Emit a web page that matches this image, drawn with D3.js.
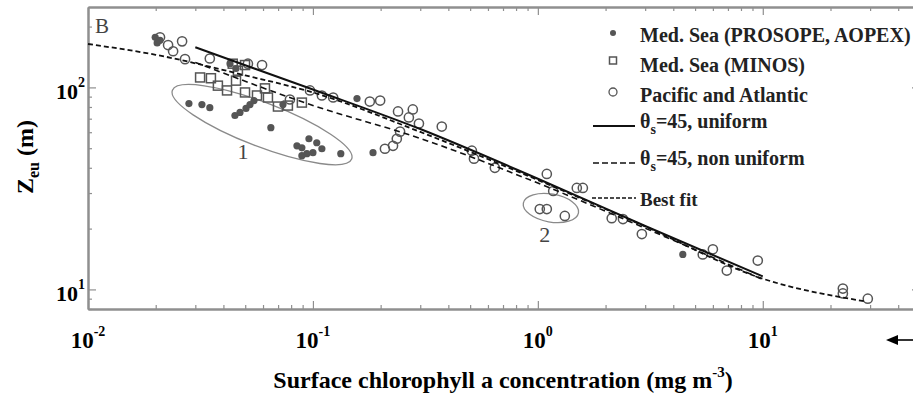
<!DOCTYPE html>
<html><head><meta charset="utf-8">
<script src="https://cdn.jsdelivr.net/npm/d3@7"></script>
<style>body{margin:0;background:#fff}svg{display:block}</style>
</head><body><svg id="c" width="913" height="396"></svg>
<script>
// ---------- data ----------
const prosopeChl = [0.0199,0.0203,0.0209,0.0281,0.0321,0.0348,0.045,0.0474,0.0504,0.0525,0.0547,0.065,0.0849,0.0893,0.096,0.104,0.1096,0.1,0.0893,0.094,0.133,0.185,4.41,0.0428,0.0455,0.0736,0.157];
const prosopeZeu = [177,166,171,83.2,82.2,79.4,72.6,75.2,78.7,82.2,86.1,63.2,51.4,50.2,55.7,53.2,49.7,47.5,45.9,47,47,47.5,14.9,131,124,82.2,88];

const minosChl = [0.0315,0.0352,0.0378,0.0415,0.044,0.0464,0.0455,0.0499,0.0564,0.0631,0.0699,0.0774,0.0893,0.0612,0.0499];
const minosZeu = [112,111,102,96.6,131,121,108,94.4,91.2,89.1,80.4,81.3,84.1,98.9,129];

const pacAtlChl = [0.0209,0.0262,0.0227,0.0239,0.027,0.0348,0.0514,0.0594,0.079,0.097,0.1096,0.123,0.179,0.199,0.239,0.278,0.267,0.296,0.374,0.244,0.236,0.227,0.209,0.509,0.52,0.644,1.096,1.17,1.49,1.585,1.02,1.096,1.318,2.13,2.39,2.9,5.41,6.0,6.92,9.5,22.7,22.7,29.3];
const pacAtlZeu = [177,169,162,151,138,139,131,129,87.1,96.6,91.2,89.1,85.1,86.1,76,77.8,71,66.2,64,60.4,55.7,51.4,49.7,48.6,44.4,40,37.3,30.7,31.8,31.8,25,25,23.1,22.5,22.3,18.8,14.9,15.8,12.4,13.9,10.1,9.55,9.0];

const uniformChl = [0.03,0.1,0.3,1,3,10];
const uniformZeu = [158,97.6,62.2,35.3,20.6,11.6];
const nonUniformChl = [0.03,0.1,0.3,1,3,10];
const nonUniformZeu = [133,81.4,55.9,33.6,20.1,11.2];
const bestFitChl = [0.01,0.02,0.05,0.1,0.3,1,3,10,29];
const bestFitZeu = [164,145,114.7,94.4,60.2,34.8,20.5,11.3,8.7];

const xTickExps = [-2,-1,0,1];
const yTickExps = [1,2];

const legendLabels = ["Med. Sea (PROSOPE, AOPEX)","Med. Sea (MINOS)","Pacific and Atlantic","=45, uniform","=45, non uniform","Best fit"];

// ellipse annotations (centre in data units)
const ellipseChl = [0.0594, 1.143];
const ellipseZeu = [65.4, 25.3];
const ellipseText = ["1","2"];
const ellipseTextChl = [0.0489, 1.074];
const ellipseTextZeu = [48.6, 18.8];

// ---------- drawing ----------
const svg = d3.select("#c");
const serif = "'Liberation Serif','Times New Roman',serif";
const x = d3.scaleLog().domain([0.01,50]).range([88,920]);
const y = d3.scaleLog().domain([8,250]).range([309,7]);
const axisCol = "#8f8f8f";
const markCol = "#555";

// axes
const majX = x.ticks().filter(v => Math.abs(Math.log10(v) - Math.round(Math.log10(v))) < 1e-9);
const minX = x.ticks().filter(v => !majX.includes(v));
const majY = y.ticks().filter(v => Math.abs(Math.log10(v) - Math.round(Math.log10(v))) < 1e-9);
const minY = y.ticks().filter(v => !majY.includes(v));

function styleAxis(g){
  g.selectAll("path").attr("stroke", axisCol).attr("stroke-width", 2);
  g.selectAll("line").attr("stroke", axisCol).attr("stroke-width", 1.2);
}
function addAxis(gen, vals, size, tr){
  svg.append("g").attr("transform", tr)
    .call(gen.tickValues(vals).tickSizeInner(-size).tickSizeOuter(0).tickFormat(""))
    .call(styleAxis);
}
addAxis(d3.axisBottom(x), majX, 8, "translate(0,309)");
addAxis(d3.axisBottom(x), minX, 4, "translate(0,309)");
addAxis(d3.axisTop(x), majX, 8, "translate(0,7)");
addAxis(d3.axisTop(x), minX, 4, "translate(0,7)");
addAxis(d3.axisLeft(y), majY, 8, "translate(88,0)");
addAxis(d3.axisLeft(y), minY, 4, "translate(88,0)");
addAxis(d3.axisRight(y), majY, 8, "translate(920,0)");
addAxis(d3.axisRight(y), minY, 4, "translate(920,0)");

// tick labels
function powLabel(t, e){
  t.append("tspan").text("10");
  t.append("tspan").attr("dy", -12).attr("font-size", 14).text(e);
}
xTickExps.forEach(e => {
  const t = svg.append("text").attr("x", x(Math.pow(10,e))).attr("y", 348)
    .attr("text-anchor","middle").attr("font-family",serif).attr("font-weight","bold").attr("font-size",23);
  powLabel(t, e);
});
yTickExps.forEach(e => {
  const t = svg.append("text").attr("x", 85).attr("y", y(Math.pow(10,e)) + 12)
    .attr("text-anchor","end").attr("font-family",serif).attr("font-weight","bold").attr("font-size",22);
  powLabel(t, e);
});

// axis titles
const xt = svg.append("text").attr("x", 503).attr("y", 388).attr("text-anchor","middle")
  .attr("font-family",serif).attr("font-weight","bold").attr("font-size",24);
xt.append("tspan").text("Surface chlorophyll a concentration (mg m");
xt.append("tspan").attr("dy",-11).attr("font-size",15).text("-3");
xt.append("tspan").attr("dy",11).text(")");

const yt = svg.append("text").attr("transform","translate(33,157) rotate(-90)").attr("text-anchor","middle")
  .attr("font-family",serif).attr("font-weight","bold").attr("font-size",24);
yt.append("tspan").text("Z");
yt.append("tspan").attr("dy",6).attr("font-size",16).text("eu");
yt.append("tspan").attr("dy",-6).text(" (m)");

// panel letter
svg.append("text").attr("x",95).attr("y",33).attr("font-family",serif).attr("font-size",21).attr("fill","#444").text("B");

// ellipses
const ellR = [[96,22,21],[28,14,10]];
ellipseChl.forEach((c,i) => {
  const cx = x(c), cy = y(ellipseZeu[i]);
  svg.append("ellipse").attr("cx",cx).attr("cy",cy).attr("rx",ellR[i][0]).attr("ry",ellR[i][1])
    .attr("transform",`rotate(${ellR[i][2]},${cx},${cy})`)
    .attr("fill","none").attr("stroke","#8a8a8a").attr("stroke-width",1.3);
  svg.append("text").attr("x",x(ellipseTextChl[i])).attr("y",y(ellipseTextZeu[i])+8).attr("text-anchor","middle")
    .attr("font-family",serif).attr("font-size",22).attr("fill","#444").text(ellipseText[i]);
});

// scatter
pacAtlChl.forEach((c,i) => svg.append("circle").attr("cx",x(c)).attr("cy",y(pacAtlZeu[i])).attr("r",4.6)
  .attr("fill","none").attr("stroke",markCol).attr("stroke-width",1.5));
minosChl.forEach((c,i) => svg.append("rect").attr("x",x(c)-4.5).attr("y",y(minosZeu[i])-4.5).attr("width",9).attr("height",9)
  .attr("fill","none").attr("stroke",markCol).attr("stroke-width",1.5));
prosopeChl.forEach((c,i) => svg.append("circle").attr("cx",x(c)).attr("cy",y(prosopeZeu[i])).attr("r",3.6)
  .attr("fill",markCol));

// lines
const line = d3.line().x(d => x(d[0])).y(d => y(d[1])).curve(d3.curveMonotoneX);
svg.append("path").attr("d", line(uniformChl.map((c,i)=>[c,uniformZeu[i]])))
  .attr("fill","none").attr("stroke","#111").attr("stroke-width",2);
svg.append("path").attr("d", line(nonUniformChl.map((c,i)=>[c,nonUniformZeu[i]])))
  .attr("fill","none").attr("stroke","#111").attr("stroke-width",1.6).attr("stroke-dasharray","6,4");
svg.append("path").attr("d", line(bestFitChl.map((c,i)=>[c,bestFitZeu[i]])))
  .attr("fill","none").attr("stroke","#111").attr("stroke-width",1.8).attr("stroke-dasharray","5,3");

// legend
const lx = 613, tx = 640;
const lf = 20;
svg.append("circle").attr("cx",lx).attr("cy",33).attr("r",3).attr("fill",markCol);
svg.append("rect").attr("x",lx-3.5).attr("y",57).attr("width",7).attr("height",7).attr("fill","none").attr("stroke",markCol).attr("stroke-width",1.5);
svg.append("circle").attr("cx",lx).attr("cy",92).attr("r",4).attr("fill","none").attr("stroke",markCol).attr("stroke-width",1.3);
svg.append("line").attr("x1",593).attr("x2",635).attr("y1",126).attr("y2",126).attr("stroke","#111").attr("stroke-width",2);
svg.append("line").attr("x1",593).attr("x2",635).attr("y1",163).attr("y2",163).attr("stroke","#111").attr("stroke-width",1.6).attr("stroke-dasharray","6,3");
svg.append("line").attr("x1",592).attr("x2",636).attr("y1",198).attr("y2",198).attr("stroke","#111").attr("stroke-width",1.5).attr("stroke-dasharray","4,2");
const lys = [42,72,102,128,165,206];
legendLabels.forEach((s,i) => {
  const t = svg.append("text").attr("x",tx).attr("y",lys[i]).attr("font-family",serif).attr("font-weight","bold")
    .attr("font-size", i===5 ? 19 : lf).attr("fill","#222");
  if (i===3 || i===4){
    t.append("tspan").text("\u03b8");
    t.append("tspan").attr("dy",6).attr("font-size",14).text("s");
    t.append("tspan").attr("dy",-6).text(s);
  } else t.text(s);
});

// arrow at right
svg.append("line").attr("x1",895).attr("x2",913).attr("y1",340).attr("y2",340).attr("stroke","#000").attr("stroke-width",1.6);
svg.append("path").attr("d","M886,340 L898,335 L898,345 Z").attr("fill","#000");
</script>
</body></html>
